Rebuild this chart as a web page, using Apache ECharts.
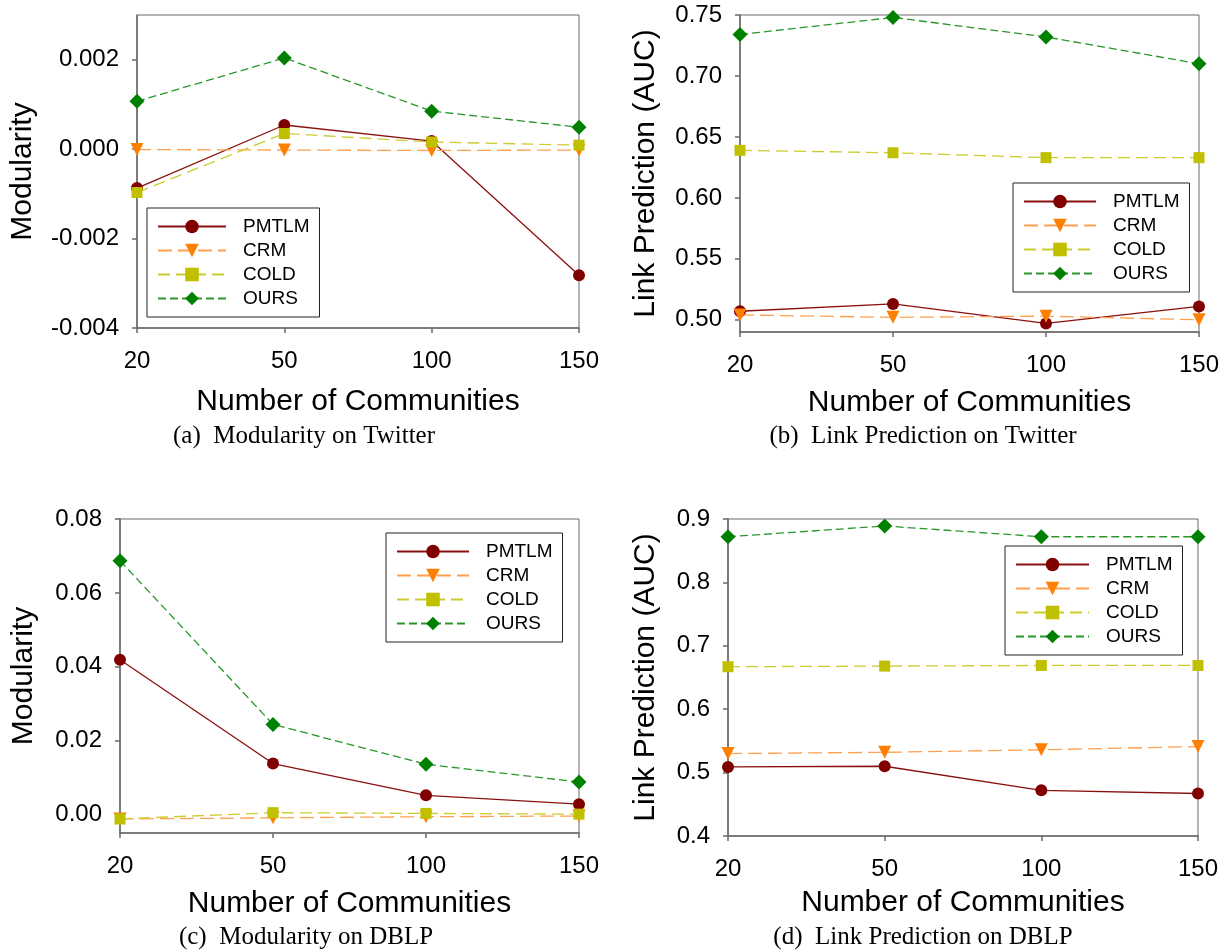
<!DOCTYPE html>
<html>
<head>
<meta charset="utf-8">
<script src="https://cdn.jsdelivr.net/npm/echarts@6/dist/echarts.min.js"></script>
<style>
  html, body { margin: 0; padding: 0; background: #fff; }
  #chart { width: 1231px; height: 950px; }
</style>
</head>
<body>
<div id="chart"></div>
<script>
// Number of communities on the x axis
const categories = ['20', '50', '100', '150'];
const methodNames = ['PMTLM', 'CRM', 'COLD', 'OURS'];

// (a) Modularity on Twitter
const twitterModPMTLM = [-0.00087, 0.00054, 0.00018, -0.00282];
const twitterModCRM   = [-0.00001, -0.00002, -0.00003, -0.00002];
const twitterModCOLD  = [-0.00097, 0.00035, 0.00016, 0.00009];
const twitterModOURS  = [0.00107, 0.00204, 0.00085, 0.00049];
const twitterModTicks = [-0.004, -0.002, 0, 0.002];

// (b) Link prediction on Twitter
const twitterLinkPMTLM = [0.507, 0.513, 0.497, 0.511];
const twitterLinkCRM   = [0.504, 0.502, 0.503, 0.500];
const twitterLinkCOLD  = [0.639, 0.637, 0.633, 0.633];
const twitterLinkOURS  = [0.734, 0.748, 0.732, 0.710];
const twitterLinkTicks = [0.50, 0.55, 0.60, 0.65, 0.70, 0.75];

// (c) Modularity on DBLP
const dblpModPMTLM = [0.0419, 0.0138, 0.0052, 0.0028];
const dblpModCRM   = [-0.0012, -0.0009, -0.0006, -0.0004];
const dblpModCOLD  = [-0.0012, 0.0005, 0.0003, 0.0001];
const dblpModOURS  = [0.0687, 0.0244, 0.0136, 0.0088];
const dblpModTicks = [0.00, 0.02, 0.04, 0.06, 0.08];

// (d) Link prediction on DBLP
const dblpLinkPMTLM = [0.509, 0.510, 0.472, 0.467];
const dblpLinkCRM   = [0.530, 0.532, 0.536, 0.541];
const dblpLinkCOLD  = [0.667, 0.668, 0.669, 0.669];
const dblpLinkOURS  = [0.872, 0.889, 0.872, 0.872];
const dblpLinkTicks = [0.4, 0.5, 0.6, 0.7, 0.8, 0.9];

const SANS = "'Liberation Sans', Arial, Helvetica, sans-serif";
const SERIF = "'Liberation Serif', 'Times New Roman', serif";

// Per-method drawing style
const methodStyle = {
  PMTLM: { symbol: 'circle',   size: 12, rotate: 0,   mark: '#800000', line: '#8a1010', type: 'solid' },
  CRM:   { symbol: 'triangle', size: 13, rotate: 180, mark: '#ff7f00', line: '#ffa050', type: [14, 6] },
  COLD:  { symbol: 'rect',     size: 11, rotate: 0,   mark: '#c0c000', line: '#cccc30', type: [12, 6] },
  OURS:  { symbol: 'diamond',  size: 15, rotate: 0,   mark: '#008000', line: '#2a962a', type: [8, 4] }
};

// Panel layout
const panels = [
  { grid: { left: 137, top: 15, width: 442, height: 313 },
    min: -0.004, max: 0.003, ticks: twitterModTicks, digits: 3,
    yName: 'Modularity', yGap: 99, xGap: 59,
    data: [twitterModPMTLM, twitterModCRM, twitterModCOLD, twitterModOURS],
    legend: { left: 147, top: 208, itemWidth: 68 },
    caption: '(a)\u2002Modularity on Twitter', capX: 299, capY: 418 },
  { grid: { left: 740, top: 15, width: 459, height: 317 },
    min: 0.49, max: 0.75, ticks: twitterLinkTicks, digits: 2,
    yName: 'Link Prediction (AUC)', yGap: 79, xGap: 56,
    data: [twitterLinkPMTLM, twitterLinkCRM, twitterLinkCOLD, twitterLinkOURS],
    legend: { left: 1013, top: 183, itemWidth: 72 },
    caption: '(b)\u2002Link Prediction on Twitter', capX: 918, capY: 418 },
  { grid: { left: 120, top: 519, width: 459, height: 314 },
    min: -0.005, max: 0.08, ticks: dblpModTicks, digits: 2,
    yName: 'Modularity', yGap: 81, xGap: 56,
    data: [dblpModPMTLM, dblpModCRM, dblpModCOLD, dblpModOURS],
    legend: { left: 386, top: 533, itemWidth: 72 },
    caption: '(c)\u2002Modularity on DBLP', capX: 301, capY: 919 },
  { grid: { left: 728, top: 519, width: 470, height: 317 },
    min: 0.4, max: 0.9, ticks: dblpLinkTicks, digits: 1,
    yName: 'Link Prediction (AUC)', yGap: 67, xGap: 52,
    data: [dblpLinkPMTLM, dblpLinkCRM, dblpLinkCOLD, dblpLinkOURS],
    legend: { left: 1005, top: 546, itemWidth: 73 },
    caption: '(d)\u2002Link Prediction on DBLP', capX: 918, capY: 919 }
];

const axisGray = '#6a6a6a';
const option = {
  animation: false,
  backgroundColor: '#ffffff',
  grid: [], xAxis: [], yAxis: [], series: [], legend: [], title: []
};

panels.forEach((p, i) => {
  option.grid.push(Object.assign({ show: true, borderColor: axisGray, borderWidth: 1, backgroundColor: 'transparent' }, p.grid));

  option.xAxis.push({
    gridIndex: i,
    type: 'category',
    data: categories,
    boundaryGap: false,
    name: 'Number of Communities',
    nameLocation: 'middle',
    nameGap: p.xGap,
    nameTextStyle: { fontFamily: SANS, fontSize: 30, color: '#000' },
    axisLine: { onZero: false, lineStyle: { color: axisGray, width: 1.5 } },
    axisTick: { show: true, length: 5, lineStyle: { color: axisGray, width: 1.5 } },
    axisLabel: { fontFamily: SANS, fontSize: 24, color: '#000', margin: 21 },
    splitLine: { show: false }
  });

  option.yAxis.push({
    gridIndex: i,
    type: 'value',
    min: p.min,
    max: p.max,
    name: p.yName,
    nameLocation: 'middle',
    nameGap: p.yGap,
    nameTextStyle: { fontFamily: SANS, fontSize: 30, color: '#000' },
    axisLine: { show: true, onZero: false, lineStyle: { color: axisGray, width: 1.5 } },
    axisTick: { show: true, length: 5, customValues: p.ticks, lineStyle: { color: axisGray, width: 1.5 } },
    axisLabel: {
      fontFamily: SANS, fontSize: 24, color: '#000', margin: 18,
      customValues: p.ticks,
      formatter: (v) => v.toFixed(p.digits)
    },
    splitLine: { show: false }
  });

  methodNames.forEach((name, k) => {
    const s = methodStyle[name];
    option.series.push({
      name: name,
      type: 'line',
      xAxisIndex: i,
      yAxisIndex: i,
      data: p.data[k],
      symbol: s.symbol,
      symbolSize: s.size,
      symbolRotate: s.rotate,
      showAllSymbol: true,
      itemStyle: { color: s.mark },
      lineStyle: { color: s.line, width: 1.3, type: s.type },
      emphasis: { disabled: true },
      z: 2 + k
    });
  });

  option.legend.push({
    orient: 'vertical',
    left: p.legend.left,
    top: p.legend.top,
    data: methodNames,
    itemWidth: p.legend.itemWidth,
    itemHeight: 17,
    itemGap: 5,
    padding: [9, 10, 9, 10],
    borderColor: '#222',
    borderWidth: 1,
    backgroundColor: '#fff',
    selectedMode: false,
    textStyle: { fontFamily: SANS, fontSize: 19, color: '#000', padding: [0, 0, 0, 12] }
  });

  option.title.push({
    text: p.caption,
    left: p.capX,
    top: p.capY,
    textAlign: 'center',
    textStyle: { fontFamily: SERIF, fontSize: 25, fontWeight: 'normal', color: '#000', lineHeight: 26 }
  });
});

const chart = echarts.init(document.getElementById('chart'), null, { renderer: 'canvas' });
chart.setOption(option);
</script>
</body>
</html>
